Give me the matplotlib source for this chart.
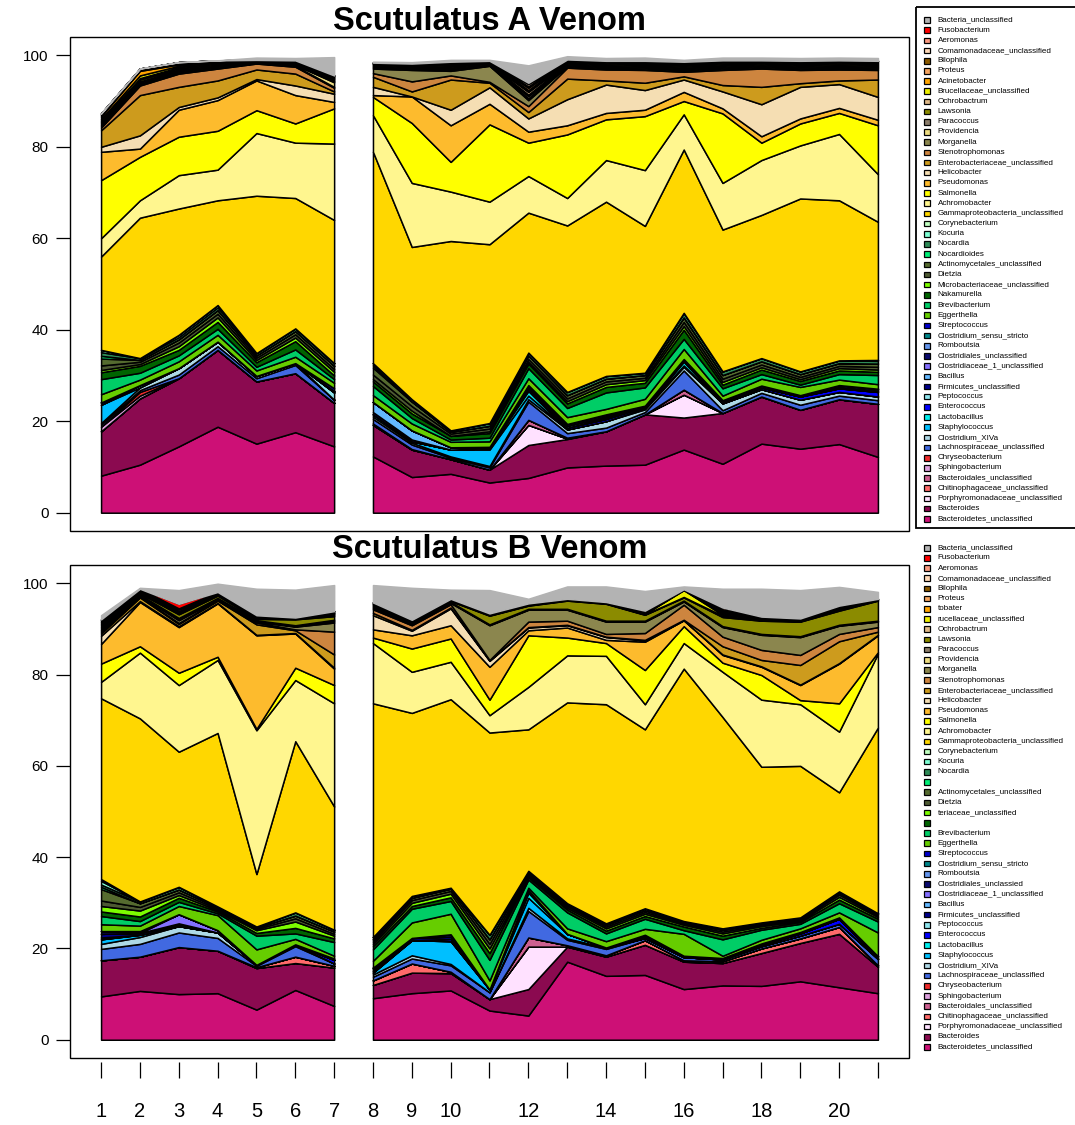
import numpy as np
import matplotlib
matplotlib.use("Agg")
import matplotlib.pyplot as plt
from matplotlib.patches import Rectangle

plt.rcParams['font.family'] = ['Liberation Sans', 'DejaVu Sans']

# ---------------------------------------------------------------- samples
samples = [1, 2, 3, 4, 5, 6, 7, 8, 9, 10, 11, 12, 13, 14, 15, 16, 17, 18, 19, 20, 21]
tick_labels = ['1', '2', '3', '4', '5', '6', '7', '8', '9', '10', '', '12', '',
               '14', '', '16', '', '18', '', '20', '']

# ---------------------------------------------------------------- taxa (stack order, bottom -> top)
taxa = ['Bacteroidetes_unclassified', 'Bacteroides', 'Porphyromonadaceae_unclassified',
        'Chitinophagaceae_unclassified', 'Bacteroidales_unclassified', 'Sphingobacterium',
        'Chryseobacterium', 'Lachnospiraceae_unclassified', 'Clostridium_XIVa', 'Staphylococcus',
        'Lactobacillus', 'Enterococcus', 'Peptococcus', 'Firmicutes_unclassified', 'Bacillus',
        'Clostridiaceae_1_unclassified', 'Clostridiales_unclassified', 'Romboutsia',
        'Clostridium_sensu_stricto', 'Streptococcus', 'Eggerthella', 'Brevibacterium', 'Nakamurella',
        'Microbacteriaceae_unclassified', 'Dietzia', 'Actinomycetales_unclassified', 'Nocardioides',
        'Nocardia', 'Kocuria', 'Corynebacterium', 'Gammaproteobacteria_unclassified', 'Achromobacter',
        'Salmonella', 'Pseudomonas', 'Helicobacter', 'Enterobacteriaceae_unclassified',
        'Stenotrophomonas', 'Morganella', 'Providencia', 'Paracoccus', 'Lawsonia', 'Ochrobactrum',
        'Brucellaceae_unclassified', 'Acinetobacter', 'Proteus', 'Bilophila',
        'Comamonadaceae_unclassified', 'Aeromonas', 'Fusobacterium', 'Bacteria_unclassified']

taxa_colors = ['#CD1076', '#8B0A50', '#FFE1FF', '#FF6A6A', '#CD6090', '#DDA0DD', '#EE2C2C',
               '#4169E1', '#ADD8E6', '#00BFFF', '#00EEEE', '#0000FF', '#8EE5EE', '#00008B',
               '#63B8FF', '#8470FF', '#0A0A6E', '#6495ED', '#00868B', '#0000CD', '#66CD00',
               '#00CD66', '#006400', '#7CFC00', '#4D5A32', '#556B2F', '#00EE76', '#2E8B57',
               '#7FFFD4', '#C1FFC1', '#FFD700', '#FFF68F', '#FFFF00', '#FDBB2D', '#F5DEB3',
               '#CD9B1D', '#CD853F', '#8B864E', '#EEDD82', '#8B7D6B', '#8B8B00', '#DEB887',
               '#EEEE00', '#FFA500', '#F4A460', '#8B5A00', '#FFDAB9', '#FA9A80', '#FF0000',
               '#B3B3B3']

# labels printed beside the second panel (top -> bottom)
legend_labels_b = ['Bacteria_unclassified', 'Fusobacterium', 'Aeromonas',
                   'Comamonadaceae_unclassified', 'Bilophila', 'Proteus', 'tobater',
                   'rucellaceae_unclassified', 'Ochrobactrum', 'Lawsonia', 'Paracoccus',
                   'Providencia', 'Morganella', 'Stenotrophomonas', 'Enterobacteriaceae_unclassified',
                   'Helicobacter', 'Pseudomonas', 'Salmonella', 'Achromobacter',
                   'Gammaproteobacteria_unclassified', 'Corynebacterium', 'Kocuria', 'Nocardia', '',
                   'Actinomycetales_unclassified', 'Dietzia', 'teriaceae_unclassified', '',
                   'Brevibacterium', 'Eggerthella', 'Streptococcus', 'Clostridium_sensu_stricto',
                   'Romboutsia', 'Clostridiales_unclassied', 'Clostridiaceae_1_unclassified',
                   'Bacillus', 'Firmicutes_unclassified', 'Peptococcus', 'Enterococcus',
                   'Lactobacillus', 'Staphylococcus', 'Clostridium_XIVa',
                   'Lachnospiraceae_unclassified', 'Chryseobacterium', 'Sphingobacterium',
                   'Bacteroidales_unclassified', 'Chitinophagaceae_unclassified',
                   'Porphyromonadaceae_unclassified', 'Bacteroides', 'Bacteroidetes_unclassified']

# ---------------------------------------------------------------- Scutulatus A (relative abundance, %)
a_bacteroidetes_uncl = [8.1, 10.5, 14.5, 18.8, 15.1, 17.6, 14.5, 12.3, 7.8, 8.5, 6.6, 7.6, 9.9, 10.3, 10.5, 13.8, 10.7, 15.1, 14.0, 15.0, 12.2]
a_bacteroides = [9.7, 14.5, 14.9, 16.8, 13.6, 12.9, 9.5, 6.9, 6.0, 3.2, 2.8, 7.2, 6.2, 7.5, 11.0, 7.0, 11.1, 10.3, 8.5, 9.8, 11.6]
a_porphyromonadaceae = [0, 0, 0, 0, 0, 0, 0, 0, 0, 0, 0, 4.4, 0.1, 0, 0, 5.0, 0, 0, 0, 0, 0]
a_chitinophagaceae = [0, 0, 0, 0, 0, 0, 0, 0, 0, 0, 0, 0, 0, 0, 0, 0, 0, 0, 0, 0, 0]
a_bacteroidales = [0, 0, 0, 0, 0, 0, 0, 0.1, 0, 0, 0, 1.1, 0.2, 0, 0, 1.1, 0, 0, 0, 0, 0]
a_sphingobacterium = [1.0, 0.6, 0, 0, 0, 0, 0, 0.2, 0.1, 0, 0, 0, 0, 0, 0, 0, 0, 0, 0, 0, 0]
a_chryseobacterium = [0, 0.8, 0, 0, 0, 0, 0, 0, 0, 0, 0, 0, 0, 0, 0, 0, 0, 0, 0, 0, 0]
a_lachnospiraceae = [0.5, 0.4, 0.8, 0.8, 0.7, 1.8, 0.7, 1.0, 1.0, 0.3, 0.5, 4.0, 1.0, 0.8, 0.5, 4.2, 0.6, 0.8, 1.1, 0.8, 0.8]
a_clostridium_xiva = [0.3, 0.6, 1.4, 1.0, 0.5, 0.4, 0, 0.5, 0.4, 0.3, 0.3, 0.5, 0.8, 1.4, 0.6, 0.8, 1.5, 0.8, 1.1, 0.8, 0.8]
a_staphylococcus = [4.0, 0, 0, 0, 0, 0, 0, 0.5, 0.3, 1.5, 3.6, 0.8, 0, 0, 0.3, 0.3, 0, 0, 0, 0, 0]
a_lactobacillus = [0, 0.5, 0, 0, 0, 0, 0, 0, 0, 0, 0.3, 1.0, 0, 0, 0, 0.8, 0, 0, 0, 0, 0]
a_enterococcus = [0, 0, 0, 0, 0, 0, 0, 0, 0, 0, 0, 0.5, 0.4, 0.5, 0.3, 0.3, 0.3, 0.4, 0.7, 0.8, 1.0]
a_peptococcus = [0, 0, 0, 0, 0, 0, 1.6, 0, 0, 0, 0, 0, 0, 0, 0, 0, 0, 0, 0, 0, 0]
a_firmicutes_uncl = [0.5, 0, 0, 0, 0, 0, 0, 0.5, 0.4, 0, 0, 0.5, 0, 0.3, 0, 0, 0, 0, 0, 0.3, 0.3]
a_bacillus = [0, 0, 0, 0, 0, 0, 0, 2.2, 2.0, 0.5, 0.3, 0.3, 0.4, 0.3, 0.2, 0.3, 0, 0, 0, 0, 0]
a_clostridiaceae_1 = [0, 0, 0, 0, 0, 0, 0, 0, 0, 0, 0, 0, 0, 0, 0, 0, 0, 0, 0, 0, 0]
a_clostridiales = [0, 0, 0, 0, 0, 0, 0.3, 0, 0, 0, 0, 0, 0.4, 0.4, 0, 0, 0.4, 0.4, 0.3, 0.4, 0.4]
a_romboutsia = [0, 0, 0, 0, 0, 0, 0, 0, 0, 0, 0, 0, 0, 0, 0, 0, 0, 0, 0, 0, 0]
a_clostridium_ss = [0, 0, 0, 0, 0, 0, 0, 0, 0, 0, 0, 0, 0, 0, 0, 0, 0, 0, 0, 0, 0]
a_streptococcus = [0, 0, 0, 0, 0, 0, 0.6, 0, 0, 0, 0, 0, 0, 0, 0, 0, 0, 0, 0, 0, 0]
a_eggerthella = [1.8, 1.2, 1.5, 1.5, 1.2, 1.4, 1.2, 1.5, 1.5, 1.2, 1.2, 1.5, 1.5, 1.2, 1.5, 2.2, 1.0, 1.5, 1.8, 1.2, 1.0]
a_brevibacterium = [3.3, 1.5, 1.3, 1.3, 0.8, 1.6, 0.8, 2.0, 1.2, 0.5, 0.8, 2.2, 2.0, 3.6, 2.5, 2.2, 1.6, 1.0, 0.5, 1.2, 2.0]
a_nakamurella = [1.5, 1.5, 1.2, 1.5, 1.0, 1.8, 0.8, 1.0, 1.0, 0.8, 1.0, 1.0, 1.0, 1.2, 1.0, 2.0, 0.8, 1.0, 0.8, 0.8, 0.7]
a_microbacteriaceae = [0.5, 0.4, 0.8, 1.0, 0.5, 0.8, 0.8, 0.5, 0.6, 0, 0.4, 0.4, 0.5, 0.6, 0.6, 0.8, 0.6, 0.5, 0.4, 0.5, 0.5]
a_dietzia = [1.0, 0.5, 0.8, 0.8, 0.5, 0.7, 0.6, 1.0, 1.0, 0.5, 0.6, 0.6, 0.6, 0.6, 0.5, 0.9, 0.7, 0.6, 0.5, 0.5, 0.6]
a_actinomycetales = [1.5, 0.4, 0.7, 0.8, 0.5, 0.7, 0.7, 1.5, 1.0, 0.4, 0.6, 0.8, 0.7, 0.6, 0.6, 1.0, 0.8, 0.7, 0.6, 0.6, 0.7]
a_nocardioides = [0.6, 0, 0, 0, 0, 0, 0, 0.5, 0, 0, 0, 0, 0, 0, 0, 0, 0, 0, 0, 0, 0]
a_nocardia = [0.8, 0.4, 0.5, 0.6, 0.5, 0.6, 0.6, 0.5, 0.5, 0.3, 0.6, 0.6, 0.7, 0.6, 0.5, 1.0, 0.8, 0.7, 0.6, 0.6, 0.6]
a_kocuria = [0.5, 0, 0.5, 0.5, 0, 0, 0, 0, 0, 0, 0, 0, 0, 0, 0, 0, 0, 0, 0, 0, 0.2]
a_corynebacterium = [0, 0, 0, 0, 0, 0, 0, 0, 0, 0, 0, 0, 0, 0, 0, 0, 0, 0, 0, 0, 0]
a_gammaproteobacteria = [20.4, 30.7, 27.6, 22.9, 34.4, 28.5, 31.3, 46.2, 33.3, 41.4, 39.1, 30.6, 36.4, 38.1, 32.1, 35.7, 31.0, 31.3, 37.8, 35.0, 30.2]
a_achromobacter = [4.0, 3.8, 7.3, 6.7, 13.7, 12.1, 16.7, 8.0, 14.0, 10.8, 9.3, 8.0, 6.0, 9.1, 12.2, 7.7, 10.2, 12.0, 11.6, 14.5, 10.4]
a_salmonella = [12.7, 9.5, 8.4, 8.5, 5.0, 4.2, 7.7, 4.0, 13.1, 6.5, 16.9, 7.3, 13.9, 8.9, 11.8, 2.9, 15.2, 3.8, 4.8, 4.6, 10.7]
a_pseudomonas = [6.2, 1.8, 5.9, 6.7, 6.5, 6.2, 1.4, 0.4, 5.8, 8.0, 4.5, 2.4, 2.0, 1.4, 1.4, 2.0, 1.1, 1.4, 1.1, 1.1, 1.2]
a_helicobacter = [1.1, 2.9, 0.6, 0.6, 0.3, 2.1, 1.8, 1.8, 0, 3.4, 3.6, 2.9, 5.7, 6.2, 4.3, 2.7, 3.7, 7.0, 6.9, 5.2, 5.0]
a_enterobacteriaceae = [3.6, 8.8, 4.4, 3.7, 2.1, 2.6, 0.5, 2.2, 1.1, 6.6, 1.0, 1.4, 4.5, 0.9, 1.6, 0.7, 1.4, 3.8, 0.8, 0.8, 3.8]
a_stenotrophomonas = [0.6, 2.1, 2.9, 2.6, 1.3, 1.5, 0.8, 0.8, 2.2, 0.9, 0.2, 1.3, 2.4, 2.4, 2.8, 1.0, 3.3, 4.0, 2.9, 2.4, 2.1]
a_morganella = [0.3, 0.3, 0.3, 0.2, 0.1, 0.2, 0.2, 1.0, 2.5, 1.0, 3.5, 1.3, 0.3, 0.3, 0.3, 0.3, 0.3, 0.3, 0.3, 0.3, 0.3]
a_providencia = [0.3, 0.3, 0.2, 0.2, 0.1, 0.2, 1.0, 0.2, 0.2, 0.3, 0.1, 0.4, 0.2, 0.2, 0.2, 0.3, 0.2, 0.2, 0.2, 0.2, 0.2]
a_paracoccus = [0.3, 0.3, 0.3, 0.2, 0.1, 0.1, 0.2, 0.2, 0.2, 0.3, 0.2, 0.5, 0.2, 0.2, 0.2, 0.2, 0.2, 0.2, 0.2, 0.2, 0.2]
a_lawsonia = [0.3, 0.4, 0.3, 0.2, 0.1, 0.2, 0.2, 0.2, 0.2, 0.3, 0.1, 0.3, 0.2, 0.2, 0.2, 0.3, 0.2, 0.2, 0.2, 0.2, 0.2]
a_ochrobactrum = [0.3, 0.3, 0.3, 0.2, 0.1, 0.2, 0.3, 0.2, 0.2, 0.3, 0.2, 0.6, 0.2, 0.2, 0.2, 0.2, 0.3, 0.2, 0.2, 0.2, 0.2]
a_brucellaceae = [0.4, 0.6, 0.3, 0.2, 0.1, 0.1, 0.2, 0.2, 0.3, 0.2, 0.1, 0.2, 0.2, 0.2, 0.2, 0.3, 0.2, 0.2, 0.2, 0.2, 0.2]
a_acinetobacter = [0.5, 1.0, 0.3, 0.2, 0.1, 0.2, 0.2, 0.1, 0.1, 0.2, 0.1, 0.2, 0.1, 0.2, 0.2, 0.2, 0.2, 0.1, 0.2, 0.2, 0.2]
a_proteus = [0.3, 0.2, 0.2, 0.2, 0, 0, 0.2, 0, 0, 0.2, 0.1, 0.5, 0.2, 0.2, 0.2, 0.2, 0.2, 0.2, 0.2, 0.2, 0.2]
a_bilophila = [0.4, 0.3, 0.3, 0.2, 0.1, 0.2, 0.2, 0.2, 0.2, 0.2, 0.2, 0.3, 0.2, 0.2, 0.3, 0.2, 0.3, 0.2, 0.3, 0.3, 0.3]
a_comamonadaceae = [0, 0, 0, 0, 0, 0, 0, 0, 0, 0, 0, 0.5, 0, 0, 0, 0, 0, 0, 0, 0, 0]
a_aeromonas = [0, 0, 0, 0, 0, 0, 0, 0, 0, 0, 0, 0.3, 0, 0, 0, 0, 0, 0, 0, 0, 0]
a_fusobacterium = [0, 0, 0, 0, 0, 0, 0, 0, 0, 0, 0, 0, 0, 0, 0, 0, 0, 0, 0, 0, 0]
a_bacteria_uncl = [0, 0, 0, 0, 0.5, 0.5, 4.0, 0.2, 0.3, 0.4, 0.2, 3.8, 0.7, 0.6, 0.7, 0.4, 0.6, 0.6, 0.6, 0.6, 0.6]

# ---------------------------------------------------------------- Scutulatus B (relative abundance, %)
b_bacteroidetes_uncl = [9.5, 10.7, 10.0, 10.2, 6.6, 10.9, 7.4, 9.1, 10.2, 10.8, 6.4, 5.3, 17.1, 14.0, 14.2, 11.1, 11.9, 11.8, 12.8, 11.5, 10.2]
b_bacteroides = [7.9, 7.5, 10.3, 9.3, 9.1, 5.9, 8.4, 2.9, 4.5, 3.8, 2.5, 5.8, 3.3, 4.2, 6.6, 6.0, 4.9, 7.2, 8.4, 11.7, 5.8]
b_porphyromonadaceae = [0, 0, 0, 0, 0, 0, 0, 0, 0, 0, 0, 9.3, 0, 0, 0, 0, 0, 0, 0, 0, 0]
b_chitinophagaceae = [0, 0, 0, 0, 0.2, 1.4, 0.4, 1.0, 2.0, 0.3, 0, 0, 0, 0.3, 1.0, 0.3, 0.4, 1.0, 1.0, 1.5, 0.3]
b_bacteroidales = [0, 0, 0, 0, 0, 0, 0, 0, 0, 0, 0, 2.0, 0.3, 0, 0, 0, 0, 0, 0, 0, 0]
b_sphingobacterium = [0, 0, 0, 0, 0, 0, 0, 0, 0, 0, 0, 0, 0, 0, 0, 0, 0, 0, 0, 0, 0]
b_chryseobacterium = [0, 0, 0, 0, 0, 0, 0, 0, 0, 0, 0, 0, 0, 0, 0, 0, 0, 0, 0, 0, 0]
b_lachnospiraceae = [2.5, 2.8, 3.2, 2.8, 0.3, 2.3, 0.5, 0.8, 1.1, 1.4, 1.5, 5.8, 1.2, 1.4, 0.5, 0.7, 0.4, 0.5, 0.6, 0.7, 1.4]
b_clostridium_xiva = [1.1, 1.5, 1.4, 1.2, 0.2, 0.4, 0, 0.5, 0.7, 0.3, 0, 0.7, 0.3, 0.3, 0, 0, 0, 0, 0, 0, 0]
b_staphylococcus = [1.0, 0.5, 0, 0, 0, 0, 0, 0.4, 3.3, 5.0, 0.6, 2.2, 1.0, 0, 0, 0, 0, 0, 0, 0, 0]
b_lactobacillus = [0, 0, 0, 0, 0, 0, 0, 0, 0, 0, 0, 1.1, 0, 0, 0, 0, 0, 0, 0, 0, 0]
b_enterococcus = [0.4, 0, 0, 0, 0, 0, 0.8, 0.3, 0, 0.5, 0, 0.3, 0, 0, 0, 0, 0, 0.3, 0.5, 1.1, 0]
b_peptococcus = [0, 0, 0, 0, 0, 0, 0, 0, 0, 0, 0, 0, 0, 0, 0, 0, 0, 0, 0, 0, 0]
b_firmicutes_uncl = [0.8, 0.4, 0.3, 0, 0, 0, 0, 0.3, 0.5, 0.5, 0, 0.3, 0, 0, 0, 0.3, 0, 0, 0, 0, 0.3]
b_bacillus = [0, 0, 0.3, 0, 0, 0, 0, 0.3, 0, 0, 0, 0, 0, 0, 0, 0, 0, 0, 0, 0, 0]
b_clostridiaceae_1 = [0, 0, 2.0, 0.5, 0, 0, 0, 0, 0, 0, 0, 0, 0, 0, 0, 0, 0, 0, 0, 0, 0]
b_clostridiales = [0.6, 0.4, 0, 0, 0, 0, 0, 0.2, 0, 0.5, 0, 0, 0, 0, 0.4, 0, 0.3, 0.3, 0.3, 0.3, 0.3]
b_romboutsia = [0, 0, 0, 0, 0, 0, 0, 0, 0, 0, 0, 0, 0, 0, 0, 0, 0, 0, 0, 0, 0]
b_clostridium_ss = [0, 0, 0, 0, 0, 0, 0, 0, 0, 0, 0, 0, 0, 0, 0, 0, 0, 0, 0, 0, 0]
b_streptococcus = [0, 0, 0, 0, 0, 0, 0.3, 0, 0, 0, 0, 0, 0, 0, 0.3, 0, 0, 0, 0, 0, 0]
b_eggerthella = [1.5, 1.2, 1.8, 3.3, 3.4, 1.2, 0.6, 1.5, 3.4, 4.5, 2.0, 0.5, 1.2, 1.4, 1.3, 4.8, 0.5, 0.8, 0.8, 1.1, 5.2]
b_brevibacterium = [1.8, 1.0, 0.9, 0.4, 3.0, 1.2, 3.0, 2.5, 3.0, 2.8, 4.5, 1.8, 3.5, 1.7, 2.2, 0.8, 3.6, 2.2, 1.0, 2.0, 2.4]
b_nakamurella = [1.0, 1.0, 0.9, 0.4, 0.6, 1.2, 0.8, 0.7, 0.6, 0.8, 1.5, 0.5, 0.6, 0.6, 0.6, 0.8, 0.8, 0.4, 0.4, 0.8, 0.6]
b_microbacteriaceae = [1.2, 1.3, 0.6, 0.3, 0.6, 1.4, 0.6, 0.5, 0.7, 0.8, 1.0, 0.3, 0.4, 0.5, 0.5, 0.4, 0.5, 0.4, 0.3, 0.6, 0.4]
b_dietzia = [1.2, 0.8, 0.6, 0.3, 0.3, 0.7, 0.4, 0.5, 0.6, 0.6, 1.0, 0.4, 0.4, 0.4, 0.4, 0.3, 0.4, 0.3, 0.3, 0.5, 0.3]
b_actinomycetales = [2.5, 0.8, 0.6, 0.3, 0.3, 0.6, 0.5, 0.5, 0.5, 0.5, 1.0, 0.4, 0.3, 0.4, 0.4, 0.3, 0.4, 0.3, 0.2, 0.4, 0.3]
b_nocardioides = [0.5, 0, 0, 0, 0, 0, 0, 0, 0, 0, 0, 0, 0, 0, 0, 0, 0, 0, 0, 0, 0]
b_nocardia = [0.5, 0.4, 0.6, 0.2, 0.2, 0.7, 0.4, 0.5, 0.4, 0.2, 1.0, 0.3, 0.3, 0.3, 0.4, 0.2, 0.3, 0.2, 0.2, 0.3, 0.2]
b_kocuria = [0.8, 0, 0, 0, 0, 0, 0, 0, 0, 0, 0, 0, 0, 0, 0, 0, 0, 0, 0, 0, 0]
b_corynebacterium = [0.4, 0, 0, 0, 0, 0, 0, 0, 0, 0, 0, 0, 0, 0, 0, 0, 0, 0, 0, 0, 0]
b_gammaproteobacteria = [39.6, 40.1, 29.6, 38.0, 11.5, 37.5, 27.0, 51.2, 40.1, 41.3, 44.3, 31.0, 44.0, 48.0, 39.2, 55.3, 46.3, 34.1, 33.2, 21.7, 40.7]
b_achromobacter = [3.6, 14.4, 14.6, 16.0, 31.5, 13.4, 22.6, 13.2, 9.0, 8.2, 3.8, 9.3, 10.3, 10.6, 5.5, 5.6, 9.9, 14.7, 13.5, 13.3, 16.2]
b_salmonella = [4.0, 1.4, 2.7, 0.7, 0.3, 2.7, 4.0, 1.2, 5.1, 5.1, 3.4, 11.3, 3.9, 2.8, 7.5, 3.7, 2.0, 5.4, 0.9, 6.2, 0.3]
b_pseudomonas = [4.3, 9.7, 10.0, 11.7, 20.5, 7.5, 3.6, 1.8, 2.9, 2.9, 7.2, 1.1, 2.2, 0.7, 6.2, 1.3, 1.7, 1.8, 3.3, 8.7, 3.7]
b_helicobacter = [1.8, 0.2, 0.2, 0.1, 0.1, 0.1, 0.2, 3.1, 1.0, 3.7, 1.3, 0.6, 0.5, 0.6, 0.3, 0, 0.1, 0.1, 0.1, 0.1, 0.1]
b_enterobacteriaceae = [0.5, 0.8, 0.5, 0.5, 2.3, 0.6, 2.9, 0.5, 0.2, 0.2, 0.1, 0.1, 0.1, 0.1, 0.1, 0.1, 1.8, 1.4, 4.3, 4.8, 0.7]
b_stenotrophomonas = [0.3, 0.2, 0.2, 0.1, 0.4, 0.2, 5.0, 0.8, 1.0, 0.7, 0.1, 1.2, 0.9, 0.6, 1.5, 3.3, 2.1, 2.2, 2.2, 1.6, 1.0]
b_morganella = [0.3, 0.2, 0.6, 0.2, 0.2, 0.6, 2.0, 0.2, 0.3, 0.3, 7.6, 2.6, 2.4, 2.7, 2.5, 0.7, 2.1, 3.3, 3.9, 1.8, 1.2]
b_providencia = [0.2, 0.1, 0.2, 0.1, 0.1, 0.1, 0.3, 0.2, 0.1, 0.1, 0.1, 0.1, 0.1, 0.1, 0.1, 0.1, 0.1, 0.1, 0.1, 0.1, 0.1]
b_paracoccus = [0.3, 0.1, 0.3, 0.2, 0.2, 0.2, 0.3, 0.2, 0.1, 0.1, 0.1, 0.1, 0.1, 0.1, 0.1, 0.1, 0.1, 0.1, 0.1, 0.1, 0.1]
b_lawsonia = [0.4, 0.3, 0.8, 0.5, 0.3, 1.3, 0.8, 0.2, 0.2, 0.2, 1.9, 0.7, 1.8, 3.7, 1.3, 0.7, 2.0, 2.9, 3.2, 3.1, 4.4]
b_ochrobactrum = [0.3, 0.2, 0.2, 0.2, 0.1, 0.1, 0.3, 0.2, 0.1, 0.1, 0.1, 0.1, 0.1, 0.1, 0.1, 0.1, 0.3, 0.1, 0.1, 0.2, 0.1]
b_brucellaceae = [0.3, 0.2, 0.2, 0.2, 0.1, 0.1, 0.2, 0.1, 0.1, 0.1, 0.1, 0.1, 0.1, 0.1, 0.1, 1.5, 0.2, 0.1, 0.1, 0.1, 0.1]
b_acinetobacter = [0.3, 0.3, 0.2, 0.2, 0.1, 0.1, 0.2, 0.1, 0.1, 0.1, 0.1, 0.1, 0.1, 0.1, 0.1, 0.1, 0.3, 0.2, 0.1, 0.2, 0.1]
b_proteus = [0.2, 0.1, 0.1, 0, 0.1, 0, 0.1, 0.1, 0, 0.1, 0, 0, 0, 0, 0.1, 0, 0.3, 0.1, 0.1, 0.2, 0]
b_bilophila = [0.3, 0.2, 0.4, 0.2, 0.1, 0.1, 0.3, 0.2, 0.2, 0.1, 0.2, 0.2, 0.1, 0.1, 0.1, 0.1, 0.3, 0.2, 0.2, 0.2, 0.1]
b_comamonadaceae = [0.1, 0, 0.1, 0, 0.1, 0, 0, 0, 0, 0, 0, 0, 0, 0, 0, 0, 0.3, 0, 0, 0, 0]
b_aeromonas = [0.1, 0, 0.1, 0, 0.2, 0, 0, 0, 0, 0, 0, 0, 0, 0, 0.4, 0, 0.4, 0.2, 0.1, 0.2, 0]
b_fusobacterium = [0, 0, 1.0, 0, 0, 0, 0, 0, 0, 0, 0, 0, 0, 0, 0, 0, 0, 0, 0, 0, 0]
b_bacteria_uncl = [0.9, 0.2, 3.0, 1.8, 5.8, 6.1, 5.7, 3.8, 7.0, 2.0, 5.1, 1.0, 2.7, 3.4, 4.3, 0.6, 4.1, 6.1, 6.2, 4.1, 1.5]

layers_a = [a_bacteroidetes_uncl, a_bacteroides, a_porphyromonadaceae, a_chitinophagaceae,
            a_bacteroidales, a_sphingobacterium, a_chryseobacterium, a_lachnospiraceae,
            a_clostridium_xiva, a_staphylococcus, a_lactobacillus, a_enterococcus, a_peptococcus,
            a_firmicutes_uncl, a_bacillus, a_clostridiaceae_1, a_clostridiales, a_romboutsia,
            a_clostridium_ss, a_streptococcus, a_eggerthella, a_brevibacterium, a_nakamurella,
            a_microbacteriaceae, a_dietzia, a_actinomycetales, a_nocardioides, a_nocardia,
            a_kocuria, a_corynebacterium, a_gammaproteobacteria, a_achromobacter, a_salmonella,
            a_pseudomonas, a_helicobacter, a_enterobacteriaceae, a_stenotrophomonas, a_morganella,
            a_providencia, a_paracoccus, a_lawsonia, a_ochrobactrum, a_brucellaceae,
            a_acinetobacter, a_proteus, a_bilophila, a_comamonadaceae, a_aeromonas,
            a_fusobacterium, a_bacteria_uncl]

layers_b = [b_bacteroidetes_uncl, b_bacteroides, b_porphyromonadaceae, b_chitinophagaceae,
            b_bacteroidales, b_sphingobacterium, b_chryseobacterium, b_lachnospiraceae,
            b_clostridium_xiva, b_staphylococcus, b_lactobacillus, b_enterococcus, b_peptococcus,
            b_firmicutes_uncl, b_bacillus, b_clostridiaceae_1, b_clostridiales, b_romboutsia,
            b_clostridium_ss, b_streptococcus, b_eggerthella, b_brevibacterium, b_nakamurella,
            b_microbacteriaceae, b_dietzia, b_actinomycetales, b_nocardioides, b_nocardia,
            b_kocuria, b_corynebacterium, b_gammaproteobacteria, b_achromobacter, b_salmonella,
            b_pseudomonas, b_helicobacter, b_enterobacteriaceae, b_stenotrophomonas, b_morganella,
            b_providencia, b_paracoccus, b_lawsonia, b_ochrobactrum, b_brucellaceae,
            b_acinetobacter, b_proteus, b_bilophila, b_comamonadaceae, b_aeromonas,
            b_fusobacterium, b_bacteria_uncl]

# ---------------------------------------------------------------- figure
W, H = 1075, 1125
fig = plt.figure(figsize=(W / 100, H / 100), dpi=100)


def px_axes(x0, y0, x1, y1):
    return fig.add_axes([x0 / W, 1 - y1 / H, (x1 - x0) / W, (y1 - y0) / H])


ax_a = px_axes(70, 37, 909, 531)
ax_b = px_axes(70, 565, 909, 1058)

x = np.array(samples, dtype=float)
segments = [slice(0, 7), slice(7, 21)]


def draw_stack(ax, layers, title):
    vals = np.array(layers, dtype=float)
    cum = np.vstack([np.zeros(vals.shape[1]), np.cumsum(vals, axis=0)])
    n = len(taxa)
    for seg in segments:
        for i in range(n):
            edge = taxa_colors[i] if taxa[i] == 'Bacteria_unclassified' else 'black'
            ax.fill_between(x[seg], cum[i, seg], cum[i + 1, seg], facecolor=taxa_colors[i],
                            edgecolor=edge, linewidth=1.1, zorder=2 + i * 0.01)
    ax.set_xlim(0.2, 21.8)
    ax.set_ylim(-4, 104)
    for s in ax.spines.values():
        s.set_visible(False)
    ax.add_patch(Rectangle((0, 0), 1, 1, transform=ax.transAxes, fill=False,
                           edgecolor='black', linewidth=1.0, clip_on=False, zorder=10))
    ax.set_yticks([0, 20, 40, 60, 80, 100])
    ax.tick_params(axis='y', direction='out', length=10, width=0.9, pad=5.5, labelsize=11)
    ax.set_title(title, fontsize=23.5, fontweight='bold', pad=3.5)


draw_stack(ax_a, layers_a, 'Scutulatus A Venom')
draw_stack(ax_b, layers_b, 'Scutulatus B Venom')

ax_a.set_xticks([])
ax_b.spines['bottom'].set_position(('outward', 3))
ax_b.set_xticks(samples)
ax_b.set_xticklabels(tick_labels)
ax_b.tick_params(axis='x', direction='out', length=11.5, width=0.9, pad=17, labelsize=14.5)

# ---------------------------------------------------------------- legends
ov = fig.add_axes([0, 0, 1, 1], zorder=20)
ov.set_xlim(0, W)
ov.set_ylim(H, 0)
ov.axis('off')
ov.patch.set_alpha(0)

legend_colors = taxa_colors[::-1]
legend_labels_a = taxa[::-1]

ov.add_patch(Rectangle((915.5, 6.5), 200, 521.5, fill=False, edgecolor='black', linewidth=1.3))


def draw_legend(labels, y0, dy):
    for j, (lab, col) in enumerate(zip(labels, legend_colors)):
        yc = y0 + j * dy
        ov.add_patch(Rectangle((924, yc - 2.8), 5.6, 5.6, facecolor=col, edgecolor='black',
                               linewidth=0.9))
        if lab:
            ov.text(937.5, yc, lab, fontsize=5.8, va='center', ha='left')


draw_legend(legend_labels_a, 20.0, 10.18)
draw_legend(legend_labels_b, 547.7, 10.19)

fig.savefig('out.png', dpi=100)
